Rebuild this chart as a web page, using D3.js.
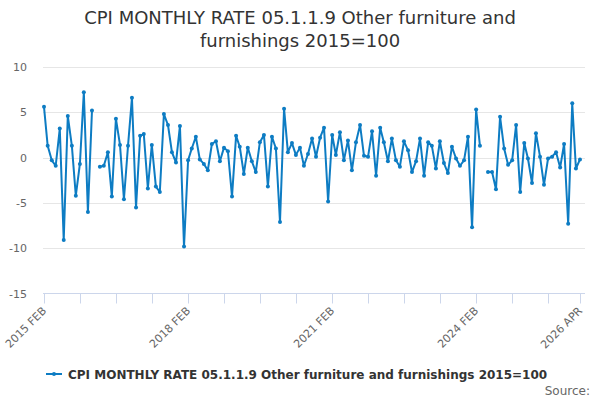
<!DOCTYPE html>
<html>
<head>
<meta charset="utf-8">
<script src="https://cdn.jsdelivr.net/npm/d3@7"></script>
<style>
  body { margin: 0; background: #fff; }
  svg { font-family: "DejaVu Sans", sans-serif; display: block; }
</style>
</head>
<body>
<div id="chart"></div>
<script>
var seriesName = "CPI MONTHLY RATE 05.1.1.9 Other furniture and furnishings 2015=100";
var titleLines = ["CPI MONTHLY RATE 05.1.1.9 Other furniture and", "furnishings 2015=100"];

// monthly rate, Feb 2015 .. Apr 2026 (null = no value)
var values = [
  5.6, 1.3, -0.3, -0.9, 3.2, -9.1, 4.6, 1.3, -4.2, -0.7, 7.2,            // 2015 Feb-Dec
  -6.0, 5.2, null, -1.0, -0.9, 0.6, -4.3, 4.3, 1.4, -4.6, 1.3, 6.6,      // 2016
  -5.5, 2.4, 2.6, -3.4, 1.4, -3.2, -3.8, 4.8, 3.6, 0.6, -0.55, 3.5,      // 2017
  -9.8, -0.3, 1.0, 2.3, -0.2, -0.7, -1.4, 1.5, 1.8, -0.4, 1.1, 0.7,      // 2018
  -4.3, 2.4, 1.2, -1.8, 1.1, -0.4, -1.6, 1.7, 2.5, -3.2, 2.3, 1.0,       // 2019
  -7.1, 5.4, 0.6, 1.6, 0.3, 1.1, -0.9, 0.4, 2.1, 0.1, 2.2, 3.3,          // 2020
  -4.85, 2.5, 0.3, 2.8, -0.3, 1.9, -1.4, 1.7, 3.6, 0.2, 0.1, 2.9,        // 2021
  -2.0, 3.3, 1.7, -0.4, 2.1, -0.3, -1.0, 1.8, 0.8, -1.6, -0.4, 2.1,      // 2022
  -2.0, 1.7, 1.3, -1.2, 1.8, -0.6, -1.7, 1.2, -0.1, -0.9, -0.3, 2.3,     // 2023
  -7.7, 5.3, 1.3, null, -1.6, -1.6, -3.5, 4.5, 1.0, -0.8, -0.3, 3.6,     // 2024
  -3.8, 1.6, -0.1, -2.8, 2.7, 0.1, -3.0, -0.1, 0.1, 0.6, -1.1, 1.5,      // 2025
  -7.3, 6.0, -1.2, -0.2                                                 // 2026 Jan-Apr
];

var firstMonth = new Date(2015, 1, 1);
var lastMonth = new Date(2026, 3, 1);
var months = d3.timeMonth.range(firstMonth, d3.timeMonth.offset(lastMonth, 1));

var yTicks = [10, 5, 0, -5, -10, -15];
var xTickLabels = ["2015 FEB", "2018 FEB", "2021 FEB", "2024 FEB", "2026 APR"];

function drawChart() {
    var data = months.map(function (m, i) { return { date: m, value: values[i] }; });

    var w = 600, h = 400;
    var plotLeft = 44, plotRight = 580, plotTop = 67, plotBottom = 293.5;
    var gridRight = 585;
    var blue = "#0d7cc3";

    var svg = d3.select("#chart").append("svg")
        .attr("width", w)
        .attr("height", h);

    /* SCALES */
    var x = d3.scaleTime()
        .domain([firstMonth, lastMonth])
        .range([plotLeft, plotRight]);

    var y = d3.scaleLinear()
        .domain([-15, 10])
        .range([plotBottom, plotTop]);

    /* TITLE */
    svg.append("g").selectAll("text")
        .data(titleLines)
        .enter().append("text")
        .attr("x", w / 2)
        .attr("y", function (d, i) { return 24 + i * 23; })
        .attr("text-anchor", "middle")
        .style("font-size", "18px")
        .style("fill", "#333")
        .text(function (d) { return d; });

    /* GRID + Y LABELS */
    var grid = svg.append("g");
    grid.selectAll("line")
        .data(yTicks.filter(function (d) { return d !== -15; }))
        .enter().append("line")
        .attr("x1", plotLeft - 1)
        .attr("x2", gridRight)
        .attr("y1", function (d) { return Math.round(y(d)) + 0.5; })
        .attr("y2", function (d) { return Math.round(y(d)) + 0.5; })
        .attr("stroke", "#e6e6e6");

    grid.selectAll("text")
        .data(yTicks)
        .enter().append("text")
        .attr("x", 27)
        .attr("y", function (d) { return y(d) + 4; })
        .attr("text-anchor", "end")
        .style("font-size", "11px")
        .style("fill", "#666")
        .text(function (d) { return d; });

    /* X AXIS */
    var tickDates = d3.range(0, 15).map(function (k) { return d3.timeMonth.offset(firstMonth, k * 9); });
    tickDates.push(lastMonth);

    var xAxis = svg.append("g");
    xAxis.append("line")
        .attr("x1", plotLeft - 1)
        .attr("x2", gridRight)
        .attr("y1", plotBottom)
        .attr("y2", plotBottom)
        .attr("stroke", "#ccd6eb");

    xAxis.selectAll(".tick")
        .data(tickDates)
        .enter().append("line")
        .attr("class", "tick")
        .attr("x1", function (d) { return Math.round(x(d)) + 0.5; })
        .attr("x2", function (d) { return Math.round(x(d)) + 0.5; })
        .attr("y1", plotBottom)
        .attr("y2", plotBottom + 10)
        .attr("stroke", "#ccd6eb");

    var labelDates = [tickDates[0], tickDates[4], tickDates[8], tickDates[12], lastMonth];
    xAxis.selectAll(".lbl")
        .data(labelDates)
        .enter().append("text")
        .attr("class", "lbl")
        .attr("transform", function (d) { return "translate(" + (x(d) + 3) + "," + (plotBottom + 18) + ") rotate(-45)"; })
        .attr("text-anchor", "end")
        .style("font-size", "11px")
        .style("fill", "#666")
        .text(function (d, i) { return xTickLabels[i]; });

    /* LINE + MARKERS */
    var line = d3.line()
        .defined(function (d) { return d.value != null; })
        .x(function (d) { return x(d.date); })
        .y(function (d) { return y(d.value); });

    svg.append("path")
        .datum(data)
        .attr("d", line)
        .attr("fill", "none")
        .attr("stroke", blue)
        .attr("stroke-width", 2)
        .attr("stroke-linejoin", "round");

    svg.append("g").selectAll("circle")
        .data(data.filter(function (d) { return d.value != null; }))
        .enter().append("circle")
        .attr("cx", function (d) { return x(d.date); })
        .attr("cy", function (d) { return y(d.value); })
        .attr("r", 2)
        .attr("fill", blue);

    /* LEGEND */
    var legend = svg.append("g").attr("transform", "translate(46,374)");
    legend.append("line")
        .attr("x1", 0).attr("x2", 16)
        .attr("y1", 0).attr("y2", 0)
        .attr("stroke", blue)
        .attr("stroke-width", 2);
    legend.append("circle")
        .attr("cx", 8).attr("cy", 0).attr("r", 2)
        .attr("fill", blue);
    legend.append("text")
        .attr("x", 22)
        .attr("y", 4.5)
        .style("font-size", "12px")
        .style("font-weight", "bold")
        .style("fill", "#333")
        .text(seriesName);

    /* SOURCE */
    svg.append("text")
        .attr("x", 590)
        .attr("y", 395)
        .attr("text-anchor", "end")
        .style("font-size", "12px")
        .style("fill", "#666")
        .text("Source:");
}

drawChart();
</script>
</body>
</html>
